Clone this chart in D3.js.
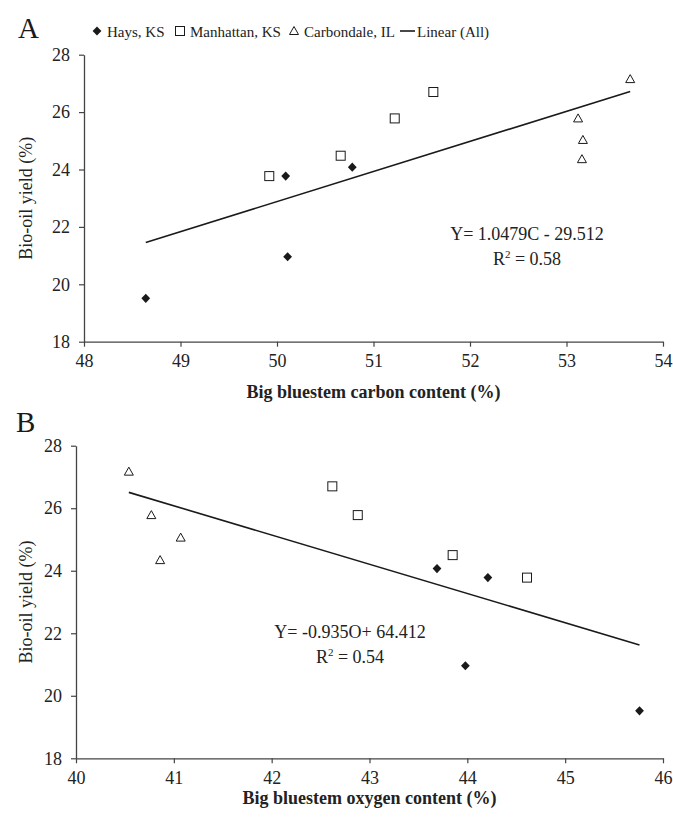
<!DOCTYPE html>
<html><head><meta charset="utf-8">
<script src="https://cdn.jsdelivr.net/npm/d3@7"></script>
<style>
body{margin:0;background:#fff;}
svg{display:block;font-family:"Liberation Serif","Times New Roman",serif;}
</style></head>
<body>
<svg id="c" width="673" height="817"></svg>
<script>
// Panel A: carbon content (%) vs bio-oil yield (%)
const haysC = [48.64, 50.09, 50.11, 50.78];
const haysYieldA = [19.51, 23.77, 20.96, 24.08];
const manC = [49.92, 50.66, 51.22, 51.62];
const manYieldA = [23.77, 24.48, 25.78, 26.70];
const carbC = [53.66, 53.12, 53.17, 53.16];
const carbYieldA = [27.15, 25.78, 25.03, 24.36];
// Panel B: oxygen content (%) vs bio-oil yield (%)
const haysO = [43.69, 44.21, 43.98, 45.76];
const haysYieldB = [24.07, 23.78, 20.96, 19.52];
const manO = [42.62, 42.88, 43.85, 44.61];
const manYieldB = [26.70, 25.78, 24.50, 23.78];
const carbO = [40.54, 40.77, 40.86, 41.07];
const carbYieldB = [27.17, 25.78, 24.34, 25.06];
// Linear fits
const fitA = {slope: 1.0479, intercept: -29.512, xFrom: 48.64, xTo: 53.66};
const fitB = {slope: -0.935, intercept: 64.412, xFrom: 40.54, xTo: 45.76};
const xTicksA = [48, 49, 50, 51, 52, 53, 54];
const xTicksB = [40, 41, 42, 43, 44, 45, 46];
const yTicks = [18, 20, 22, 24, 26, 28];
const legendLabels = ["Hays, KS", "Manhattan, KS", "Carbondale, IL", "Linear (All)"];

const svg = d3.select("#c");
const ink = "#1a1a1a";
const txt = "#222";
const axisCol = "#444";
const FS = 18;

function marker(g, type, x, y) {
  if (type === "diamond") {
    g.append("path").attr("d", `M${x},${y-4.6}L${x+4.4},${y}L${x},${y+4.6}L${x-4.4},${y}Z`)
      .attr("fill", ink);
  } else if (type === "square") {
    g.append("rect").attr("x", x - 4.5).attr("y", y - 4.5).attr("width", 9).attr("height", 9)
      .attr("fill", "#fff").attr("stroke", ink).attr("stroke-width", 1);
  } else {
    g.append("path").attr("d", `M${x},${y-4.5}L${x+4.5},${y+3.5}L${x-4.5},${y+3.5}Z`)
      .attr("fill", "#fff").attr("stroke", ink).attr("stroke-width", 1);
  }
}

function panel(opt) {
  const x = d3.scaleLinear().domain(opt.xDomain).range(opt.xRange);
  const y = d3.scaleLinear().domain([18, 28]).range(opt.yRange);
  const g = svg.append("g");
  const xAxis = g.append("g").attr("transform", `translate(0,${opt.yRange[0]})`)
    .call(d3.axisBottom(x).tickValues(opt.xTicks).tickFormat(d3.format("d")).tickSize(5).tickPadding(8).tickSizeOuter(0));
  const yAxis = g.append("g").attr("transform", `translate(${opt.xRange[0]},0)`)
    .call(d3.axisLeft(y).tickValues(yTicks).tickFormat(d3.format("d")).tickSize(5).tickPadding(9).tickSizeOuter(0));
  [xAxis, yAxis].forEach(a => {
    a.select(".domain").attr("stroke", axisCol).attr("stroke-width", 1.3);
    a.selectAll(".tick line").attr("stroke", axisCol).attr("stroke-width", 1.2);
    a.selectAll(".tick text").attr("font-size", FS).attr("fill", txt)
      .attr("font-family", '"Liberation Serif","Times New Roman",serif');
  });
  // fit line
  g.append("line")
    .attr("x1", x(opt.fit.xFrom)).attr("y1", y(opt.fit.slope * opt.fit.xFrom + opt.fit.intercept))
    .attr("x2", x(opt.fit.xTo)).attr("y2", y(opt.fit.slope * opt.fit.xTo + opt.fit.intercept))
    .attr("stroke", ink).attr("stroke-width", 1.6);
  opt.series.forEach(s => {
    s.xs.forEach((v, i) => marker(g, s.type, x(v), y(s.ys[i])));
  });
  // labels
  g.append("text").attr("x", opt.panelX).attr("y", opt.panelY).attr("font-size", 29).attr("fill", ink).text(opt.panelLabel);
  g.append("text").attr("transform", `translate(32,${(opt.yRange[0] + opt.yRange[1]) / 2}) rotate(-90)`)
    .attr("text-anchor", "middle").attr("font-size", FS).attr("fill", txt).text("Bio-oil yield (%)");
  g.append("text").attr("x", (opt.xRange[0] + opt.xRange[1]) / 2).attr("y", opt.xTitleY)
    .attr("text-anchor", "middle").attr("font-size", FS).attr("font-weight", "bold").attr("fill", txt).text(opt.xTitle);
  g.append("text").attr("x", opt.eqX).attr("y", opt.eqY).attr("text-anchor", "middle")
    .attr("font-size", FS).attr("fill", txt).text(opt.eq);
  const r2 = g.append("text").attr("x", opt.eqX).attr("y", opt.eqY + 25).attr("text-anchor", "middle")
    .attr("font-size", FS).attr("fill", txt);
  r2.append("tspan").text("R");
  r2.append("tspan").attr("font-size", 11).attr("dy", -7).text("2");
  r2.append("tspan").attr("dy", 7).text(" = " + opt.r2);
}

panel({
  xDomain: [48, 54], xRange: [84, 663], yRange: [341.7, 54.7], xTicks: xTicksA,
  fit: fitA,
  series: [
    {type: "diamond", xs: haysC, ys: haysYieldA},
    {type: "square", xs: manC, ys: manYieldA},
    {type: "triangle", xs: carbC, ys: carbYieldA}
  ],
  panelLabel: "A", panelX: 18, panelY: 38,
  xTitle: "Big bluestem carbon content (%)", xTitleY: 398,
  eq: "Y= 1.0479C - 29.512", r2: "0.58", eqX: 527, eqY: 240
});

panel({
  xDomain: [40, 46], xRange: [76, 663], yRange: [758.3, 445.7], xTicks: xTicksB,
  fit: fitB,
  series: [
    {type: "diamond", xs: haysO, ys: haysYieldB},
    {type: "square", xs: manO, ys: manYieldB},
    {type: "triangle", xs: carbO, ys: carbYieldB}
  ],
  panelLabel: "B", panelX: 16, panelY: 432,
  xTitle: "Big bluestem oxygen content (%)", xTitleY: 804,
  eq: "Y= -0.935O+ 64.412", r2: "0.54", eqX: 350, eqY: 638
});

// legend
const lg = svg.append("g");
const legendX = [97, 180, 294, 400];
const types = ["diamond", "square", "triangle", "line"];
legendLabels.forEach((lab, i) => {
  const cx = legendX[i];
  if (types[i] === "line") {
    lg.append("line").attr("x1", cx).attr("x2", cx + 15).attr("y1", 31).attr("y2", 31).attr("stroke", ink).attr("stroke-width", 1.6);
    lg.append("text").attr("x", cx + 17).attr("y", 37).attr("font-size", 15).attr("fill", txt).text(lab);
  } else {
    marker(lg, types[i], cx, 31);
    lg.append("text").attr("x", cx + 10).attr("y", 37).attr("font-size", 15).attr("fill", txt).text(lab);
  }
});
</script>
</body></html>
